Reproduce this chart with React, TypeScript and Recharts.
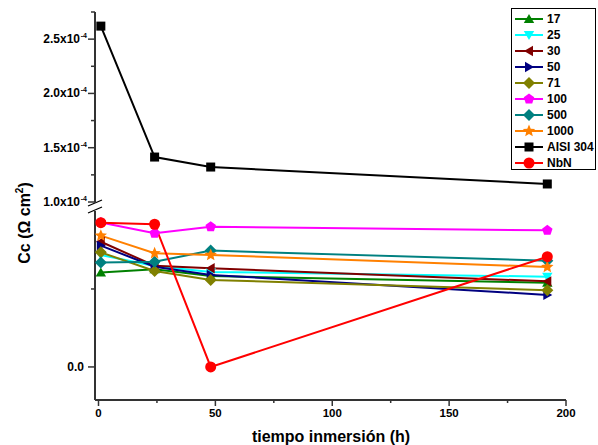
import React from "react"
import { LineChart, Line, XAxis, YAxis } from "recharts"

const W = 598
const H = 445
const FONT = "'Liberation Sans', Arial, sans-serif"

// tiempo de inmersión (h)
const TIMES = [1, 24, 48, 192]

// tramo superior del eje (Ω cm²)
const AISI_304 = [2.62e-4, 1.414e-4, 1.322e-4, 1.166e-4]

// tramo inferior del eje (unidades de la escala rota, 0.0 marcado)
const S17 = [0.605, 0.626, 0.583, 0.54]
const S25 = [0.718, 0.647, 0.609, 0.579]
const S30 = [0.803, 0.649, 0.633, 0.549]
const S50 = [0.778, 0.643, 0.59, 0.462]
const S71 = [0.735, 0.615, 0.558, 0.492]
const S100 = [0.926, 0.857, 0.899, 0.876]
const S500 = [0.669, 0.675, 0.746, 0.681]
const S1000 = [0.842, 0.729, 0.718, 0.641]
const NBN = [0.925, 0.915, 0, 0.707]

const X_TICKS = [0, 25, 50, 75, 100, 125, 150, 175, 200]
const UPPER_TICKS = [1.0e-4, 1.25e-4, 1.5e-4, 1.75e-4, 2.0e-4, 2.25e-4, 2.5e-4, 2.75e-4]
const UPPER_LABELS = ["1.0", "", "1.5", "", "2.0", "", "2.5", ""]
const LOWER_TICKS = [0, 0.5]
const LOWER_LABELS = ["0.0", ""]

type Shape = "triUp" | "triDown" | "triLeft" | "triRight" | "diamond" | "pentagon" | "star" | "square" | "circle"

const LOWER_SERIES: { key: string; name: string; values: number[]; color: string; shape: Shape }[] = [
  { key: "s17", name: "17", values: S17, color: "#008000", shape: "triUp" },
  { key: "s25", name: "25", values: S25, color: "#00ffff", shape: "triDown" },
  { key: "s30", name: "30", values: S30, color: "#800000", shape: "triLeft" },
  { key: "s50", name: "50", values: S50, color: "#000080", shape: "triRight" },
  { key: "s71", name: "71", values: S71, color: "#808000", shape: "diamond" },
  { key: "s100", name: "100", values: S100, color: "#ff00ff", shape: "pentagon" },
  { key: "s500", name: "500", values: S500, color: "#008080", shape: "diamond" },
  { key: "s1000", name: "1000", values: S1000, color: "#ff8000", shape: "star" },
  { key: "nbn", name: "NbN", values: NBN, color: "#ff0000", shape: "circle" },
]

const LEGEND = [
  ...LOWER_SERIES.slice(0, 8),
  { key: "aisi", name: "AISI 304", color: "#000000", shape: "square" as Shape },
  LOWER_SERIES[8],
]

const upperData = TIMES.map((t, i) => ({ t, aisi: AISI_304[i] }))
const lowerData = TIMES.map((t, i) => {
  const row: Record<string, number> = { t }
  LOWER_SERIES.forEach((s) => (row[s.key] = s.values[i]))
  return row
})

function polygon(cx: number, cy: number, n: number, r: number, rot: number) {
  const pts: string[] = []
  for (let i = 0; i < n; i++) {
    const a = rot + (i * 2 * Math.PI) / n
    pts.push(`${cx + r * Math.cos(a)},${cy + r * Math.sin(a)}`)
  }
  return pts.join(" ")
}

function Marker({ shape, cx, cy, color }: { shape: Shape; cx: number; cy: number; color: string }) {
  const r = 5.5
  let pts = ""
  switch (shape) {
    case "circle":
      return <circle cx={cx} cy={cy} r={5.5} fill={color} />
    case "square":
      return <rect x={cx - 4.5} y={cy - 4.5} width={9} height={9} fill={color} />
    case "triUp":
      pts = polygon(cx, cy + 1, 3, r + 0.5, -Math.PI / 2)
      break
    case "triDown":
      pts = polygon(cx, cy - 1, 3, r + 0.5, Math.PI / 2)
      break
    case "triLeft":
      pts = polygon(cx + 1, cy, 3, r + 0.5, Math.PI)
      break
    case "triRight":
      pts = polygon(cx - 1, cy, 3, r + 0.5, 0)
      break
    case "diamond":
      pts = polygon(cx, cy, 4, r + 0.5, 0)
      break
    case "pentagon":
      pts = polygon(cx, cy, 5, r, -Math.PI / 2)
      break
    case "star": {
      const p: string[] = []
      for (let i = 0; i < 10; i++) {
        const rr = i % 2 === 0 ? r + 1 : (r + 1) * 0.45
        const a = -Math.PI / 2 + (i * Math.PI) / 5
        p.push(`${cx + rr * Math.cos(a)},${cy + rr * Math.sin(a)}`)
      }
      pts = p.join(" ")
      break
    }
  }
  return <polygon points={pts} fill={color} />
}

function makeYTick(ticks: number[], labels: string[], sci: boolean) {
  return (props: any) => {
    const { x, y, payload } = props
    const idx = ticks.findIndex((v) => Math.abs(v - payload.value) < 1e-9)
    const label = labels[idx] ?? ""
    const major = label !== ""
    return (
      <g>
        <line x1={x - (major ? 7 : 4)} x2={x} y1={y} y2={y} stroke="#333" strokeWidth={1.5} />
        {major && (
          <text x={x - (sci ? 15 : 11)} y={y + 4} textAnchor="end" fontSize={12} fontWeight="bold" fontFamily={FONT} fill="#000">
            {label}
            {sci ? "x10" : ""}
          </text>
        )}
        {major && sci && (
          <text x={x - 8} y={y - 1} textAnchor="end" fontSize={7} fontWeight="bold" fontFamily={FONT} fill="#000">
            -4
          </text>
        )}
      </g>
    )
  }
}

function XTick(props: any) {
  const { x, y, payload } = props
  const major = payload.value % 50 === 0
  return (
    <g>
      <line x1={x} x2={x} y1={y} y2={y + (major ? 6 : 3)} stroke="#333" strokeWidth={1.5} />
      {major && (
        <text x={x} y={y + 17} textAnchor="middle" fontSize={11.5} fontWeight="bold" fontFamily={FONT} fill="#000">
          {payload.value}
        </text>
      )}
    </g>
  )
}

const axisLine = { stroke: "#333", strokeWidth: 2 }
const layer: React.CSSProperties = { position: "absolute", left: 0, top: 0 }

export default function App() {
  return (
    <div style={{ position: "absolute", left: 0, top: 0, width: W, height: H, background: "#fff" }}>
      <div style={layer}>
        <LineChart width={W} height={H} data={lowerData} margin={{ top: 211, right: 32, left: 0, bottom: 0 }}>
          <XAxis
            dataKey="t"
            type="number"
            domain={[-1.5, 200]}
            ticks={X_TICKS}
            height={45}
            axisLine={axisLine}
            tickLine={false}
            tickSize={0}
            tickMargin={0}
            tick={XTick}
            interval={0}
          />
          <YAxis
            type="number"
            domain={[-0.212, 1.0]}
            ticks={LOWER_TICKS}
            width={95}
            axisLine={axisLine}
            tickLine={false}
            tickSize={0}
            tickMargin={0}
            tick={makeYTick(LOWER_TICKS, LOWER_LABELS, false)}
            interval={0}
          />
          {LOWER_SERIES.map((s) => (
            <Line
              key={s.key}
              dataKey={s.key}
              stroke={s.color}
              strokeWidth={2}
              isAnimationActive={false}
              dot={(p: any) => <Marker key={`${s.key}-${p.index}`} shape={s.shape} cx={p.cx} cy={p.cy} color={s.color} />}
            />
          ))}
        </LineChart>
      </div>
      <div style={layer}>
        <LineChart width={W} height={H} data={upperData} margin={{ top: 12, right: 32, left: 0, bottom: 243 }}>
          <XAxis dataKey="t" type="number" domain={[-1.5, 200]} hide />
          <YAxis
            type="number"
            domain={[1.0e-4, 2.75e-4]}
            ticks={UPPER_TICKS}
            width={95}
            axisLine={axisLine}
            tickLine={false}
            tickSize={0}
            tickMargin={0}
            tick={makeYTick(UPPER_TICKS, UPPER_LABELS, true)}
            interval={0}
          />
          <Line
            dataKey="aisi"
            stroke="#000"
            strokeWidth={2}
            isAnimationActive={false}
            dot={(p: any) => <Marker key={`aisi-${p.index}`} shape="square" cx={p.cx} cy={p.cy} color="#000" />}
          />
        </LineChart>
      </div>
      <svg width={W} height={H} style={{ ...layer, pointerEvents: "none" }}>
        {/* corte del eje */}
        <rect x={93} y={203} width={4} height={8} fill="#fff" />
        <line x1={88} y1={206} x2={102} y2={200} stroke="#000" strokeWidth={1.3} />
        <line x1={88} y1={213} x2={102} y2={207} stroke="#000" strokeWidth={1.3} />
        {/* títulos */}
        <text
          transform="rotate(-90)"
          x={-223}
          y={30}
          textAnchor="middle"
          fontSize={16}
          fontWeight="bold"
          fontFamily={FONT}
          fill="#000"
        >
          Cc (Ω cm<tspan dy={-7} fontSize={10}>2</tspan>
          <tspan dy={7}>)</tspan>
        </text>
        <text x={331} y={442} textAnchor="middle" fontSize={16} fontWeight="bold" fontFamily={FONT} fill="#000">
          tiempo inmersión (h)
        </text>
        {/* leyenda */}
        <rect x={511.5} y={8.5} width={84} height={161} fill="#fff" stroke="#000" strokeWidth={1} />
        {LEGEND.map((s, i) => {
          const y = 19 + i * 16
          return (
            <g key={s.key}>
              <line x1={515} x2={543} y1={y} y2={y} stroke={s.color} strokeWidth={2} />
              <Marker shape={s.shape} cx={529} cy={y} color={s.color} />
              <text x={547} y={y + 4} fontSize={12} fontWeight="bold" fontFamily={FONT} fill="#000">
                {s.name}
              </text>
            </g>
          )
        })}
      </svg>
    </div>
  )
}
